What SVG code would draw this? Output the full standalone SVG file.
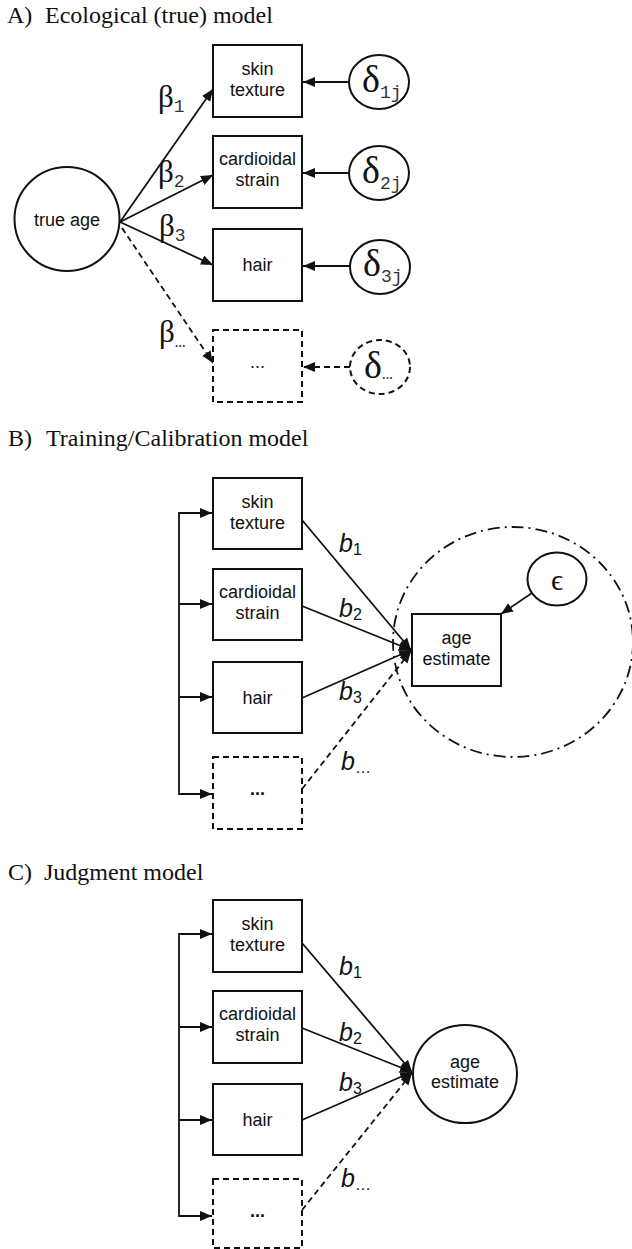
<svg xmlns="http://www.w3.org/2000/svg" width="632" height="1249" viewBox="0 0 632 1249">
<defs>
<marker id="ah" markerUnits="userSpaceOnUse" markerWidth="14" markerHeight="12" refX="12" refY="5" orient="auto"><path d="M0,0 L12,5 L0,10 Z" fill="#111"/></marker>
</defs>
<style>
.title{font-family:"Liberation Serif","Times New Roman",serif;font-size:24px;fill:#111}
.lbl{font-family:"Liberation Sans",Arial,sans-serif;font-size:18px;fill:#111;text-anchor:middle}
.box{fill:#fff;stroke:#111;stroke-width:2}
.dash{stroke-dasharray:6 4}
.ln{stroke:#111;stroke-width:1.8;fill:none}
.arr{marker-end:url(#ah)}
.greek{font-family:"Liberation Serif","Times New Roman",serif;fill:#111}
.sub{font-family:"Liberation Mono","Courier New",monospace;fill:#333}
.bl{font-family:"Liberation Sans",Arial,sans-serif;font-style:italic;font-size:25px;fill:#111}
.bs{font-family:"Liberation Sans",Arial,sans-serif;font-style:normal;font-size:16px;fill:#111}
</style>
<rect width="632" height="1249" fill="#fff"/>

<!-- titles -->
<text class="title" x="7" y="23">A)<tspan x="45">Ecological (true) model</tspan></text>
<text class="title" x="8" y="446">B)<tspan x="46">Training/Calibration model</tspan></text>
<text class="title" x="8" y="880">C)<tspan x="44">Judgment model</tspan></text>

<!-- connectors -->
<g id="connectors">
  <!-- A -->
  <line class="ln arr" x1="120" y1="222" x2="213" y2="89"/>
  <line class="ln arr" x1="120" y1="222" x2="213" y2="175"/>
  <line class="ln arr" x1="120" y1="222" x2="213" y2="265"/>
  <line class="ln arr dash" x1="122" y1="228" x2="213" y2="363"/>
  <line class="ln arr" x1="349" y1="82" x2="303" y2="82"/>
  <line class="ln arr" x1="349" y1="173" x2="303" y2="173"/>
  <line class="ln arr" x1="350" y1="266" x2="303" y2="266"/>
  <line class="ln arr dash" x1="350" y1="367" x2="303" y2="367"/>
  <!-- B bracket -->
  <polyline class="ln" points="212,513 179,513 179,794 212,794"/>
  <line class="ln arr" x1="179" y1="513" x2="212" y2="513"/>
  <line class="ln arr" x1="179" y1="604" x2="212" y2="604"/>
  <line class="ln arr" x1="179" y1="697" x2="212" y2="697"/>
  <line class="ln arr" x1="179" y1="794" x2="212" y2="794"/>
  <!-- B to age estimate -->
  <line class="ln arr" x1="302" y1="520" x2="411" y2="650"/>
  <line class="ln arr" x1="302" y1="606" x2="411" y2="650"/>
  <line class="ln arr" x1="302" y1="698" x2="411" y2="650"/>
  <line class="ln arr dash" x1="302" y1="789" x2="411" y2="651"/>
  <line class="ln arr" x1="532" y1="593" x2="501" y2="614"/>
  <!-- C bracket -->
  <polyline class="ln" points="212,934 179,934 179,1216 212,1216"/>
  <line class="ln arr" x1="179" y1="934" x2="212" y2="934"/>
  <line class="ln arr" x1="179" y1="1027" x2="212" y2="1027"/>
  <line class="ln arr" x1="179" y1="1120" x2="212" y2="1120"/>
  <line class="ln arr" x1="179" y1="1216" x2="212" y2="1216"/>
  <!-- C to age estimate -->
  <line class="ln arr" x1="302" y1="943" x2="412" y2="1072"/>
  <line class="ln arr" x1="302" y1="1028" x2="412" y2="1072"/>
  <line class="ln arr" x1="302" y1="1120" x2="412" y2="1072"/>
  <line class="ln arr dash" x1="302" y1="1210" x2="412" y2="1073"/>
</g>

<!-- edge labels -->
<g id="labels-A">
  <text class="greek" x="158" y="107" font-size="31">β<tspan class="sub" font-size="18" dy="5">1</tspan></text>
  <text class="greek" x="158" y="182" font-size="31">β<tspan class="sub" font-size="18" dy="5">2</tspan></text>
  <text class="greek" x="159" y="236" font-size="31">β<tspan class="sub" font-size="18" dy="5">3</tspan></text>
  <text class="greek" x="159" y="342" font-size="31">β<tspan class="sub" font-size="18" dy="5">…</tspan></text>
</g>
<g id="labels-B">
  <text class="bl" x="339" y="552">b<tspan class="bs" dy="3">1</tspan></text>
  <text class="bl" x="339" y="617">b<tspan class="bs" dy="3">2</tspan></text>
  <text class="bl" x="339" y="700">b<tspan class="bs" dy="3">3</tspan></text>
  <text class="bl" x="341" y="770">b<tspan class="bs" dy="3">…</tspan></text>
</g>
<g id="labels-C">
  <text class="bl" x="339" y="975">b<tspan class="bs" dy="3">1</tspan></text>
  <text class="bl" x="339" y="1041">b<tspan class="bs" dy="3">2</tspan></text>
  <text class="bl" x="339" y="1091">b<tspan class="bs" dy="3">3</tspan></text>
  <text class="bl" x="341" y="1187">b<tspan class="bs" dy="3">…</tspan></text>
</g>

<!-- A nodes -->
<g id="A-true-age"><ellipse cx="67" cy="219" rx="52.5" ry="52" fill="#fff" stroke="#111" stroke-width="2"/><text class="lbl" x="67" y="226">true age</text></g>
<g id="A-skin"><rect class="box" x="213" y="45" width="89" height="72"/><text class="lbl" x="257.5" y="75">skin</text><text class="lbl" x="257.5" y="96">texture</text></g>
<g id="A-cardio"><rect class="box" x="213" y="136" width="89" height="72"/><text class="lbl" x="257.5" y="165">cardioidal</text><text class="lbl" x="257.5" y="186">strain</text></g>
<g id="A-hair"><rect class="box" x="213" y="229" width="89" height="72"/><text class="lbl" x="257.5" y="271">hair</text></g>
<g id="A-more"><rect class="box dash" x="213" y="330" width="89" height="72"/><text class="lbl" x="257.5" y="368">...</text></g>
<g id="A-d1"><ellipse cx="379" cy="82" rx="30" ry="27" fill="#fff" stroke="#111" stroke-width="2"/><text class="greek" x="362" y="92" font-size="38">δ<tspan class="sub" font-size="18" dy="6">1j</tspan></text></g>
<g id="A-d2"><ellipse cx="379" cy="173" rx="30" ry="27" fill="#fff" stroke="#111" stroke-width="2"/><text class="greek" x="362" y="183" font-size="38">δ<tspan class="sub" font-size="18" dy="6">2j</tspan></text></g>
<g id="A-d3"><ellipse cx="380" cy="267" rx="30" ry="27" fill="#fff" stroke="#111" stroke-width="2"/><text class="greek" x="363" y="276" font-size="38">δ<tspan class="sub" font-size="18" dy="6">3j</tspan></text></g>
<g id="A-dmore"><ellipse class="dash" cx="380" cy="367" rx="30" ry="27" fill="#fff" stroke="#111" stroke-width="2"/><text class="greek" x="364" y="378" font-size="38">δ<tspan class="sub" font-size="18" dy="1">…</tspan></text></g>

<!-- B nodes -->
<g id="B-scope"><ellipse cx="513" cy="642" rx="120" ry="115" fill="none" stroke="#111" stroke-width="1.8" stroke-dasharray="12 5 2 5"/></g>
<g id="B-skin"><rect class="box" x="213" y="478" width="89" height="71"/><text class="lbl" x="257.5" y="508">skin</text><text class="lbl" x="257.5" y="529">texture</text></g>
<g id="B-cardio"><rect class="box" x="213" y="569" width="89" height="71"/><text class="lbl" x="257.5" y="598">cardioidal</text><text class="lbl" x="257.5" y="619">strain</text></g>
<g id="B-hair"><rect class="box" x="213" y="662" width="89" height="71"/><text class="lbl" x="257.5" y="704">hair</text></g>
<g id="B-more"><rect class="box dash" x="213" y="757" width="89" height="72"/><text class="lbl" x="257.5" y="795" font-weight="bold">...</text></g>
<g id="B-age"><rect class="box" x="412" y="614" width="89" height="72"/><text class="lbl" x="456.5" y="644">age</text><text class="lbl" x="456.5" y="665">estimate</text></g>
<g id="B-eps"><ellipse cx="557" cy="579" rx="29.5" ry="26.5" fill="#fff" stroke="#111" stroke-width="2"/><text class="greek" x="557" y="590" font-size="30" text-anchor="middle">ϵ</text></g>

<!-- C nodes -->
<g id="C-skin"><rect class="box" x="213" y="900" width="89" height="72"/><text class="lbl" x="257.5" y="930">skin</text><text class="lbl" x="257.5" y="951">texture</text></g>
<g id="C-cardio"><rect class="box" x="213" y="991" width="89" height="72"/><text class="lbl" x="257.5" y="1020">cardioidal</text><text class="lbl" x="257.5" y="1041">strain</text></g>
<g id="C-hair"><rect class="box" x="213" y="1084" width="89" height="71"/><text class="lbl" x="257.5" y="1126">hair</text></g>
<g id="C-more"><rect class="box dash" x="213" y="1179" width="89" height="69"/><text class="lbl" x="257.5" y="1217" font-weight="bold">...</text></g>
<g id="C-age"><ellipse cx="465" cy="1074" rx="52" ry="49" fill="#fff" stroke="#111" stroke-width="2"/><text class="lbl" x="465" y="1068">age</text><text class="lbl" x="465" y="1088">estimate</text></g>
</svg>
